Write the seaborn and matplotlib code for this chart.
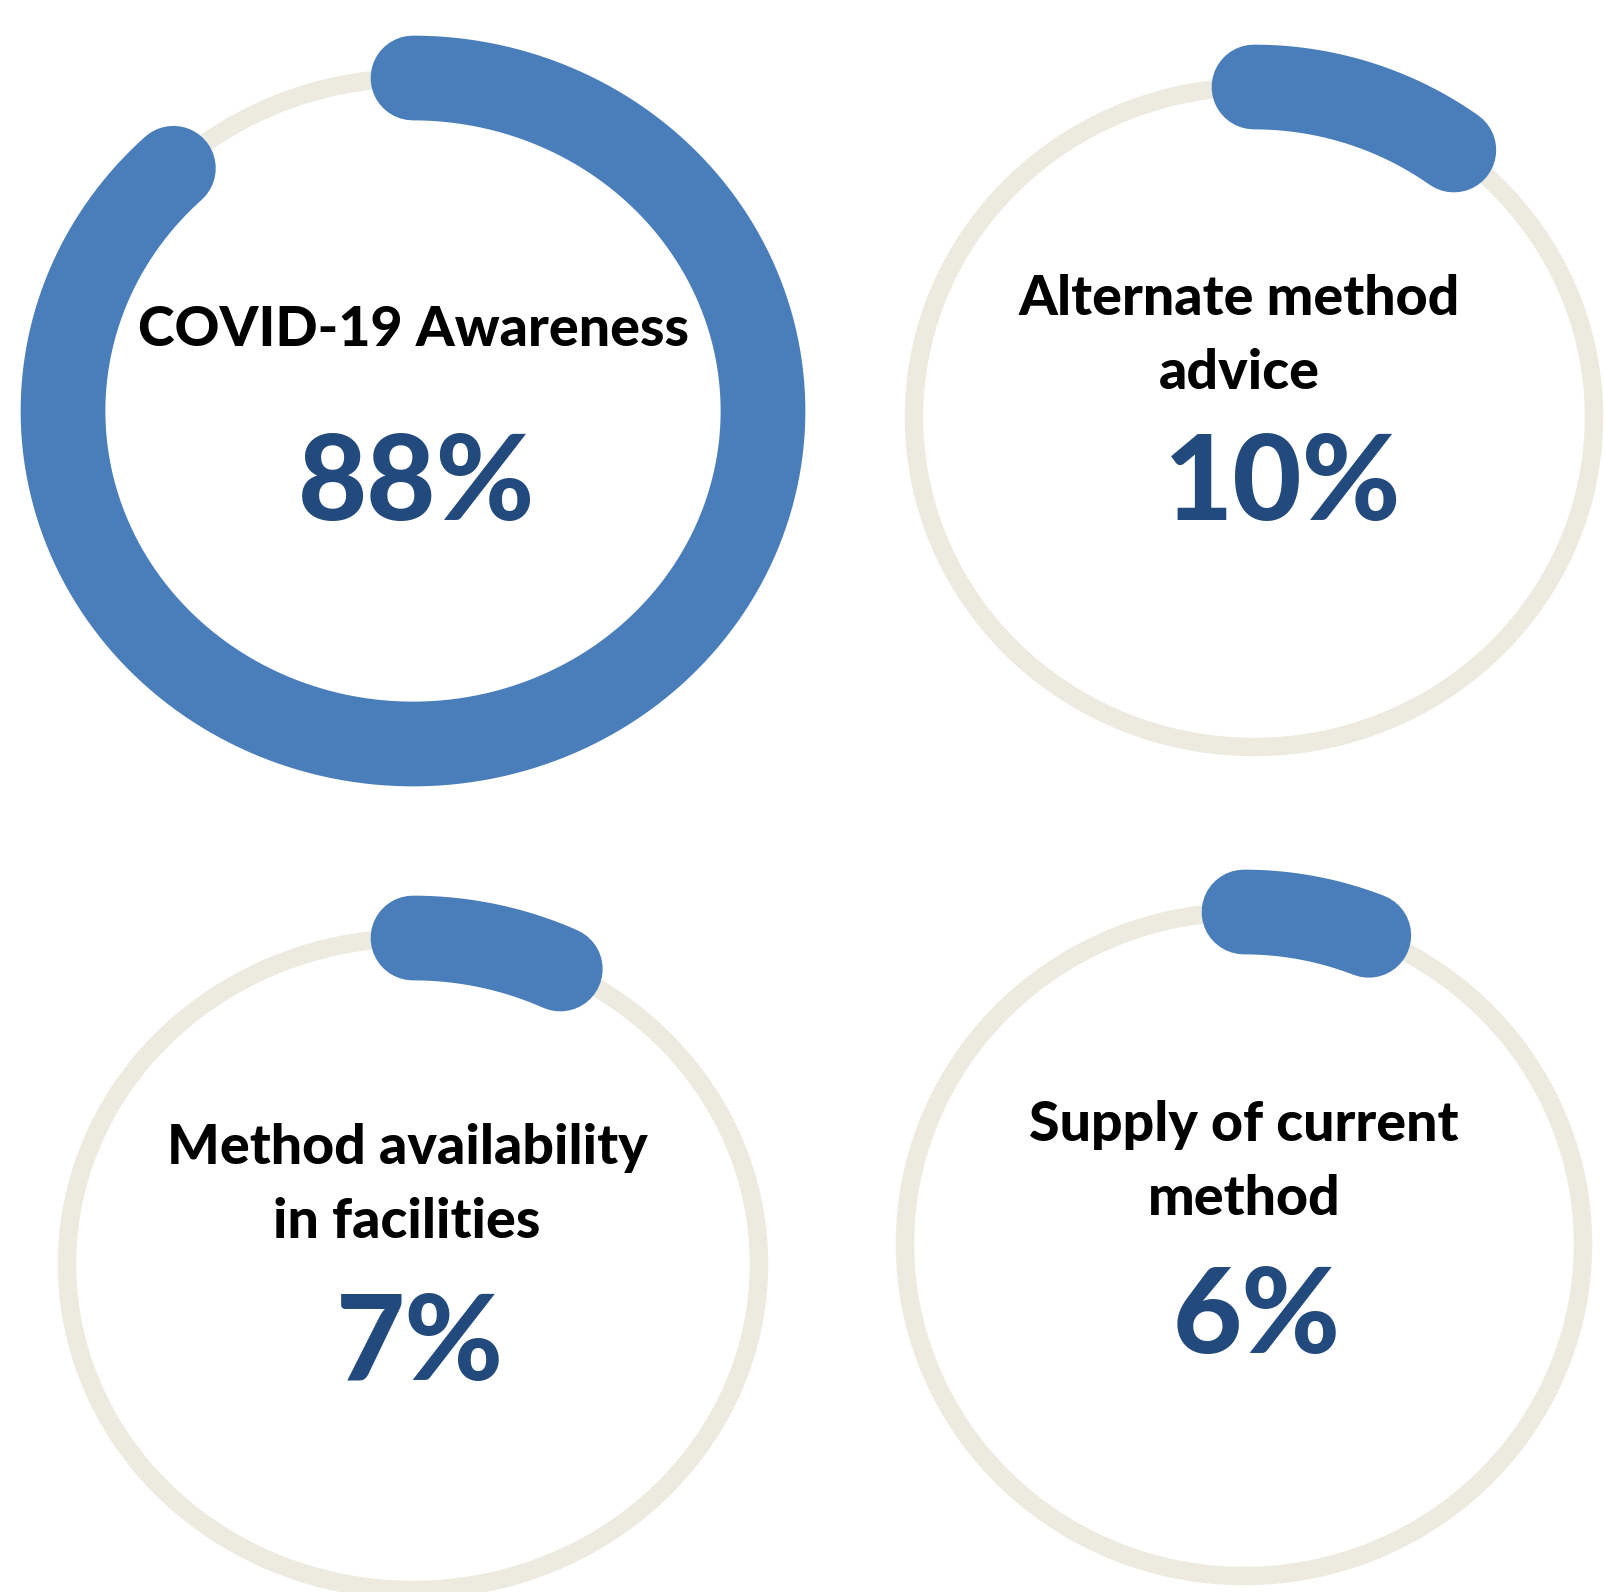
import numpy as np
import pandas as pd
import matplotlib.pyplot as plt
import seaborn as sns

# gauge data
titles = ["COVID-19 Awareness", "Alternate method\nadvice",
          "Method availability\nin facilities", "Supply of current\nmethod"]
values = [88, 10, 7, 6]

# layout (pixels, y downward): ring centre and radii of the ring centreline
centers = [(413, 411), (1254, 417), (413, 1264), (1244, 1244)]
radii = [(350, 333), (340, 330), (346, 326), (339, 332)]
title_pos = [(414, 330), (1239, 336), (407, 1185), (1244, 1162)]
pct_pos = [(417, 486), (1283, 486), (420, 1346), (1257, 1319)]

blue = "#4A7EBB"
track = "#EDEBE0"
navy = "#234A7C"

sns.set_theme(style="white")
plt.rcParams['font.family'] = ['Lato', 'DejaVu Sans']

W, H = 1606, 1592
fig = plt.figure(figsize=(W / 100, H / 100), dpi=100)
ax = fig.add_axes([0, 0, 1, 1])

for title, val, (cx, cy), (rx, ry), tp, pp in zip(titles, values, centers, radii, title_pos, pct_pos):
    # grey track
    t = np.linspace(0, 2 * np.pi, 721)
    ring = pd.DataFrame({"x": cx + rx * np.cos(t), "y": cy - ry * np.sin(t)})
    sns.lineplot(data=ring, x="x", y="y", sort=False, estimator=None, color=track,
                 linewidth=13.3, ax=ax, clip_on=False)

    # blue progress arc, clockwise from 12 o'clock
    sweep = np.radians(90) - np.linspace(0, val / 100 * 2 * np.pi, 600)
    arc = pd.DataFrame({"x": cx + rx * np.cos(sweep), "y": cy - ry * np.sin(sweep)})
    sns.lineplot(data=arc, x="x", y="y", sort=False, estimator=None, color=blue,
                 linewidth=61, solid_capstyle="round", ax=ax, clip_on=False)

    ax.text(tp[0], tp[1], title, ha="center", va="center", fontsize=40,
            fontweight="black", color="black", linespacing=1.58)
    ax.text(pp[0], pp[1], f"{val}%", ha="center", va="center", fontsize=86,
            fontweight="black", color=navy)

ax.set_xlim(0, W)
ax.set_ylim(H, 0)
ax.axis("off")
fig.savefig("out.png", dpi=100)
